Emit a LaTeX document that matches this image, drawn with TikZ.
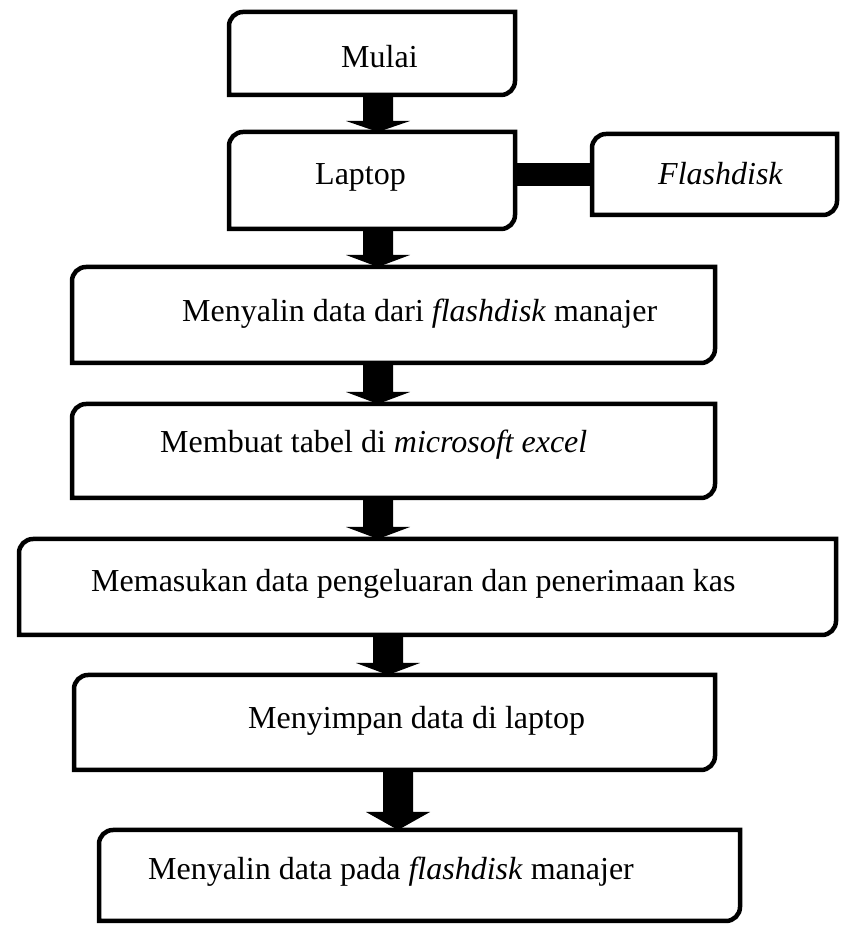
\documentclass[tikz,border=0pt]{standalone}
\usepackage{fontspec}
\setmainfont{Liberation Serif}
\usetikzlibrary{calc}

% outline with rounded top-left and bottom-right corners only
\newcommand\cornerr{14pt}
\newcommand\diagbox[1]{%
  \draw[boxline] (#1.south west) -- ([yshift=-\cornerr]#1.north west)
    arc[start angle=180,end angle=90,radius=\cornerr] -- (#1.north east)
    -- ([yshift=\cornerr]#1.south east)
    arc[start angle=0,end angle=-90,radius=\cornerr] -- cycle;}

% thick block arrow: from node, to node, x of the axis, head height
\newcommand\blockarrow[4]{%
  \path (#1.south -| #3,0) coordinate (ba-s) (#2.north -| #3,0) coordinate (ba-t);
  \fill[black] ([xshift=-15pt]ba-s) -- ([xshift=15pt]ba-s)
    -- ([shift={(15pt,#4)}]ba-t) -- ([shift={(32pt,#4)}]ba-t) -- (ba-t)
    -- ([shift={(-32pt,#4)}]ba-t) -- ([shift={(-15pt,#4)}]ba-t) -- cycle;}

\begin{document}
\begin{tikzpicture}[x=1pt,y=1pt,
  boxline/.style={line width=4.5pt,line join=miter},
  frame/.style={draw=none,inner sep=0pt,outer sep=0pt,rectangle},
  label/.style={inner sep=0pt,anchor=base west,font=\fontsize{32}{38}\selectfont}]
\useasboundingbox (0,0) rectangle (841,925);

% box frames
\node[frame,minimum width=286pt,minimum height=83pt] (b1) at (372,871.5) {};
\node[frame,minimum width=286pt,minimum height=97pt] (b2) at (372,744.5) {};
\node[frame,minimum width=245pt,minimum height=81pt] (b3) at (714.5,750.5) {};
\node[frame,minimum width=643pt,minimum height=96pt] (b4) at (393.5,610) {};
\node[frame,minimum width=643pt,minimum height=94pt] (b5) at (393.5,474) {};
\node[frame,minimum width=817pt,minimum height=96pt] (b6) at (427.5,338) {};
\node[frame,minimum width=641pt,minimum height=95pt] (b7) at (394.5,202.5) {};
\node[frame,minimum width=641pt,minimum height=91pt] (b8) at (419.5,49.5) {};

% texts
\node[label] (t1) at (341,857) {Mulai};
\node[label] (t2) at (315,740) {Laptop};
\node[label] (t3) at (658,740) {\textit{Flashdisk}};
\node[label] (t4) at (182,603) {Menyalin data dari \textit{flashdisk} manajer};
\node[label] (t5) at (160,472) {Membuat tabel di \textit{microsoft excel}};
\node[label] (t6) at (91,333) {Memasukan data pengeluaran dan penerimaan kas};
\node[label] (t7) at (248,196) {Menyimpan data di laptop};
\node[label] (t8) at (148,45) {Menyalin data pada \textit{flashdisk} manajer};

% connectors
\draw[line width=23pt] (b2.east |- b3.west) -- (b3.west);
\blockarrow{b1}{b2}{378}{11}
\blockarrow{b2}{b4}{378}{12}
\blockarrow{b4}{b5}{378}{12}
\blockarrow{b5}{b6}{378}{12}
\blockarrow{b6}{b7}{388}{12}
\blockarrow{b7}{b8}{398}{18}

% outlines on top
\diagbox{b1}
\diagbox{b2}
\diagbox{b3}
\diagbox{b4}
\diagbox{b5}
\diagbox{b6}
\diagbox{b7}
\diagbox{b8}
\end{tikzpicture}
\end{document}
